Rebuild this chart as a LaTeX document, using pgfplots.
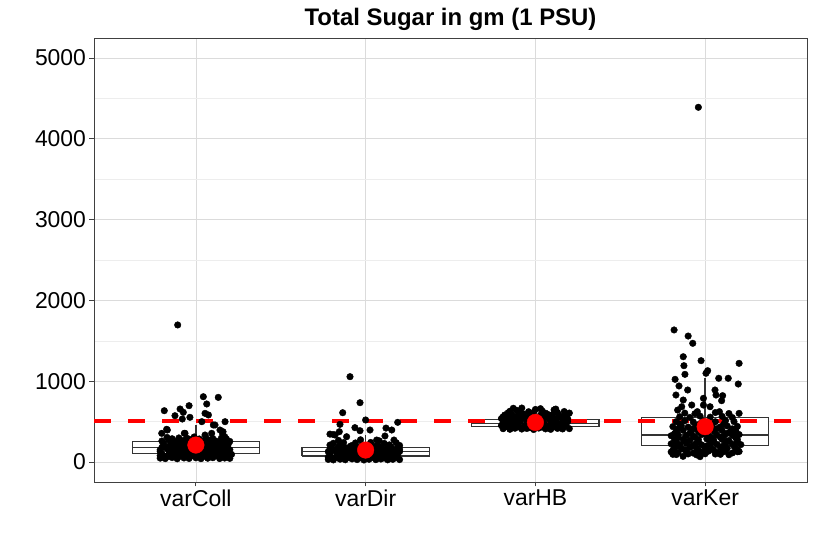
\documentclass[border=0pt]{standalone}
\usepackage{pgfplots}
\pgfplotsset{compat=1.18}
\usepackage{fontspec}
\setmainfont{Liberation Sans}

\definecolor{gridmaj}{gray}{0.86}
\definecolor{gridmin}{gray}{0.93}
\definecolor{frame}{gray}{0.25}
\definecolor{boxline}{gray}{0.2}

\begin{document}
\begin{tikzpicture}
\begin{axis}[
    scale only axis,
    width=713bp, height=444bp,
    xmin=0.4, xmax=4.6,
    ymin=-247.5, ymax=5247.5,
    xtick={1,2,3,4},
    xticklabels={varColl,varDir,varHB,varKer},
    ytick={0,1000,...,5000},
    minor ytick={500,1500,...,4500},
    grid=both,
    major grid style={gridmaj, line width=0.7bp},
    minor grid style={gridmin, line width=0.5bp},
    axis line style={frame, line width=0.9bp},
    tick align=outside, tick pos=left,
    major tick length=4.5bp, minor tick length=0pt,
    tick style={frame, line width=0.9bp},
    ticklabel style={font=\fontsize{23}{27}\selectfont},
    /pgf/number format/assume math mode=true,
    /pgf/number format/1000 sep={},
    title={Total Sugar in gm (1 PSU)},
    title style={font=\fontsize{24}{28}\selectfont\bfseries, at={(0.5,1)}, anchor=base, yshift=7bp},
    boxst/.style={draw=boxline, line width=1.3bp},
]

% whiskers (lower whisker, upper whisker)
\addplot[boxst] coordinates {(1,40) (1,458)};
\addplot[boxst] coordinates {(2,25) (2,330)};
\addplot[boxst] coordinates {(3,400) (3,665)};
\addplot[boxst] coordinates {(4,66) (4,1036)};
% boxes: lower quartile, upper quartile
\addplot[boxst, fill=white] coordinates {(0.625,107) (1.375,107) (1.375,251) (0.625,251) (0.625,107)};
\addplot[boxst, fill=white] coordinates {(1.625,74) (2.375,74) (2.375,177) (1.625,177) (1.625,74)};
\addplot[boxst, fill=white] coordinates {(2.625,437) (3.375,437) (3.375,528) (2.625,528) (2.625,437)};
\addplot[boxst, fill=white] coordinates {(3.625,202) (4.375,202) (4.375,553) (3.625,553) (3.625,202)};
% medians
\addplot[boxst] coordinates {(0.625,177) (1.375,177)};
\addplot[boxst] coordinates {(1.625,127) (2.375,127)};
\addplot[boxst] coordinates {(2.625,480) (3.375,480)};
\addplot[boxst] coordinates {(3.625,334) (4.375,334)};

% jittered observations
\addplot[only marks, mark=*, mark size=3.3bp, black] coordinates {
    % varColl
    (0.893,1696)
    (1.044,808)(1.132,800)(1.064,718)(0.814,635)(0.907,656)(0.960,697)(0.877,573)
    (0.926,615)(0.965,553)(0.920,532)(1.054,602)(1.074,582)(1.035,499)(1.172,499)
    (1.113,458)(1.142,396)(0.832,396)(0.799,355)(0.936,355)(1.054,334)(1.158,347)
    (1.093,355)(0.828,405)(0.932,355)(1.103,458)(1.160,375)(1.170,313)
    (0.79,48)(0.82,42)(0.86,55)(0.89,40)(0.93,50)(0.96,44)(1.00,52)(1.03,41)(1.07,47)
    (1.10,53)(1.14,43)(1.17,49)(1.20,45)
    (0.80,105)(0.84,96)(0.87,110)(0.91,100)(0.94,92)(0.98,108)(1.01,98)(1.05,112)
    (1.08,95)(1.12,104)(1.15,99)(1.19,108)(1.21,94)
    (0.79,150)(0.83,162)(0.86,148)(0.90,158)(0.93,165)(0.97,152)(1.00,160)(1.04,147)
    (1.07,163)(1.11,155)(1.14,149)(1.18,161)(1.20,152)
    (0.81,205)(0.85,215)(0.88,200)(0.92,212)(0.95,220)(0.99,206)(1.02,214)(1.06,203)
    (1.09,218)(1.13,208)(1.16,200)(1.19,216)
    (0.80,260)(0.84,272)(0.89,258)(0.93,268)(0.97,275)(1.03,262)(1.08,270)(1.12,258)
    (1.17,266)(1.20,255)
    (0.83,305)(0.90,298)(0.99,310)(1.06,300)(1.15,295)
    (0.81,75)(0.88,72)(0.95,78)(1.02,70)(1.09,76)(1.16,73)(0.85,128)(0.92,132)(0.99,125)
    (1.06,135)(1.13,128)(1.19,130)(0.84,185)(0.97,182)(1.10,188)(0.87,238)(1.00,240)(1.14,235)
    (0.79,78)(0.84,70)(0.91,74)(0.98,80)(1.05,72)(1.12,79)(1.19,71)
    (0.79,130)(0.88,122)(0.96,134)(1.03,126)(1.10,132)(1.16,124)
    (0.80,180)(0.87,190)(0.91,186)(1.01,178)(1.04,192)(1.07,183)(1.14,180)(1.18,190)(0.94,188)
    (0.81,232)(0.91,240)(0.95,236)(1.05,245)(1.10,230)(1.19,240)
    (0.86,288)(0.95,292)(1.02,285)(1.10,290)(1.18,285)
    % varDir
    (1.908,1056)(1.967,734)(1.865,610)(2.000,520)(1.849,466)(2.189,491)(1.937,425)
    (2.026,396)(2.154,396)(1.820,334)(1.888,313)(2.065,272)(2.114,322)(2.167,272)
    (1.845,375)(1.967,387)(2.120,420)(1.810,340)(1.790,345)
    (1.78,32)(1.81,26)(1.85,35)(1.88,28)(1.92,38)(1.95,30)(1.99,25)(2.02,34)(2.06,29)
    (2.09,37)(2.13,27)(2.16,33)(2.20,30)
    (1.79,82)(1.83,75)(1.86,88)(1.90,78)(1.93,72)(1.97,85)(2.00,79)(2.04,90)(2.07,74)
    (2.11,84)(2.14,77)(2.18,86)
    (1.78,128)(1.82,135)(1.85,122)(1.89,132)(1.92,140)(1.96,126)(1.99,134)(2.03,120)
    (2.06,138)(2.10,128)(2.13,124)(2.17,136)(2.20,130)
    (1.80,182)(1.84,190)(1.88,178)(1.91,195)(1.95,185)(2.01,180)(2.05,192)(2.09,183)
    (2.15,188)(2.19,178)
    (1.81,232)(1.87,240)(1.94,236)(2.03,242)(2.11,230)(2.18,238)
    (1.80,55)(1.87,52)(1.94,58)(2.01,54)(2.08,56)(2.15,50)(1.84,105)(1.91,108)(1.98,102)
    (2.05,110)(2.12,104)(2.19,106)(1.83,158)(1.97,155)(2.12,160)
    (1.78,58)(1.84,50)(1.90,56)(1.97,52)(2.04,58)(2.11,50)(2.18,55)
    (1.79,104)(1.87,110)(1.95,100)(2.02,108)(2.09,102)(2.16,110)
    (1.79,160)(1.86,152)(1.90,162)(1.94,150)(2.01,158)(2.06,165)(2.09,152)(2.16,158)(2.20,160)
    (1.79,210)(1.85,215)(1.92,205)(1.98,214)(2.07,208)(2.14,212)(2.20,205)
    (1.84,268)(1.97,275)(2.08,262)
    % varHB
    (2.81,412)(2.85,405)(2.88,418)(2.92,408)(2.95,415)(2.99,402)(3.02,420)(3.06,410)
    (3.09,404)(3.13,416)(3.16,409)(3.20,413)
    (2.80,452)(2.83,445)(2.87,458)(2.90,448)(2.94,455)(2.97,442)(3.01,460)(3.04,450)
    (3.08,444)(3.11,457)(3.15,449)(3.18,454)
    (2.81,492)(2.84,500)(2.88,488)(2.91,498)(2.95,505)(2.98,490)(3.02,496)(3.05,486)
    (3.09,502)(3.12,494)(3.16,489)(3.19,499)
    (2.80,538)(2.84,545)(2.87,532)(2.91,548)(2.94,536)(2.98,542)(3.01,530)(3.05,550)
    (3.08,540)(3.12,534)(3.15,546)(3.19,537)
    (2.82,582)(2.86,590)(2.90,578)(2.93,594)(2.97,585)(3.03,580)(3.07,592)(3.10,586)
    (3.14,578)(3.18,595)
    (2.85,628)(2.89,640)(2.96,622)(3.00,650)(3.04,632)(3.11,645)(3.17,625)
    (2.87,665)(3.03,660)(3.12,655)(2.92,668)
    (2.82,432)(2.86,428)(2.90,436)(2.97,425)(3.04,432)(3.10,428)(3.17,435)(2.93,430)(3.00,438)(3.14,426)
    (2.82,470)(2.89,475)(2.96,468)(3.03,476)(3.10,470)(3.17,472)(2.85,478)(3.13,480)
    (2.82,515)(2.89,520)(2.96,512)(3.03,518)(3.10,522)(3.17,515)
    (2.81,560)(2.88,565)(2.96,558)(3.03,566)(3.10,560)(3.17,564)
    (2.84,610)(2.91,605)(2.99,612)(3.06,604)(3.13,612)(3.20,606)
    % varKer
    (3.960,4390)(3.817,1634)(3.900,1559)(3.927,1469)(3.871,1303)(3.976,1254)(4.200,1221)
    (3.875,1192)(4.015,1130)(4.005,1098)(3.881,1085)(3.823,1023)(4.080,1036)(4.136,1036)
    (3.846,941)(4.195,965)(3.897,891)(4.058,891)(3.828,829)(4.064,829)(4.103,821)
    (3.990,788)(4.097,759)(3.871,767)(3.862,684)(4.029,684)(3.921,705)(3.954,623)
    (4.084,623)(4.200,602)(3.838,643)(3.990,705)
    (3.81,95)(3.87,70)(4.06,99)(4.19,127)(3.97,66)
    (3.80,125)(3.84,115)(3.89,130)(3.93,110)(3.98,122)(4.02,135)(4.07,118)(4.11,128)
    (4.16,112)(4.20,130)
    (3.82,172)(3.86,165)(3.91,180)(3.95,168)(4.00,175)(4.04,162)(4.09,178)(4.13,170)(4.18,165)
    (3.80,225)(3.85,215)(3.89,230)(3.94,220)(3.98,212)(4.03,228)(4.07,218)(4.12,232)
    (4.16,222)(4.21,215)
    (3.82,270)(3.87,282)(3.91,268)(3.96,278)(4.01,285)(4.05,272)(4.10,280)(4.14,266)(4.19,278)
    (3.80,325)(3.84,338)(3.89,330)(3.93,322)(3.98,340)(4.02,328)(4.07,335)(4.11,320)
    (4.16,332)(4.20,340)
    (3.83,380)(3.87,392)(3.92,385)(3.96,378)(4.01,395)(4.05,383)(4.10,390)(4.15,378)(4.18,388)
    (3.81,438)(3.86,445)(3.90,432)(3.95,450)(4.00,440)(4.04,448)(4.09,435)(4.13,446)(4.19,440)
    (3.83,500)(3.88,510)(3.93,495)(3.99,505)(4.06,498)(4.12,512)(4.17,500)
    (3.85,560)(3.91,552)(3.97,568)(4.03,555)(4.10,565)(4.16,550)
    (3.88,605)(3.94,598)(4.06,612)(4.14,600)
    (3.83,92)(3.90,100)(3.95,88)(4.00,102)(4.09,95)(4.14,90)
    (3.81,148)(3.88,152)(3.96,145)(4.05,150)(4.12,145)(4.19,152)
    (3.84,198)(3.92,195)(4.01,200)(4.10,192)(4.17,196)
    (3.83,245)(3.88,255)(3.96,250)(4.05,248)(4.13,252)(4.19,245)
    (3.84,300)(3.94,305)(4.04,298)(4.09,305)(4.18,300)
    (3.82,352)(3.91,358)(4.00,350)(4.13,355)
    (3.84,410)(3.93,415)(4.07,412)(4.16,410)
    (3.85,470)(3.97,475)(4.11,468)
};

% reference line
\addplot[red, line width=4.3bp, dash pattern=on 17bp off 17bp] coordinates {(0.4,511) (4.6,511)};

% group means
\addplot[only marks, mark=*, mark size=8.3bp, red] coordinates {(1,210) (2,148) (3,490) (4,437)};

\end{axis}
\pgfresetboundingbox
\path[use as bounding box] (current axis.south west) ++(-94bp,-66bp) rectangle ++(815bp,548bp);
\end{tikzpicture}
\end{document}
